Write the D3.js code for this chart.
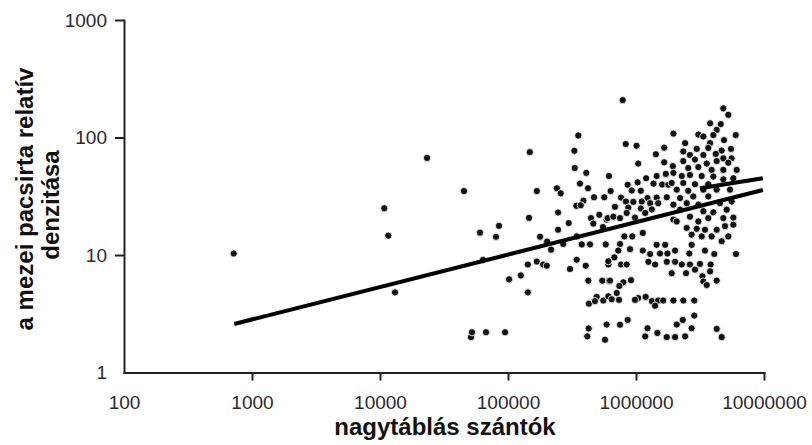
<!DOCTYPE html>
<html>
<head>
<meta charset="utf-8">
<script src="https://cdn.jsdelivr.net/npm/d3@7"></script>
<style>
  body { margin: 0; background: #fff; }
  svg { display: block; font-family: "Liberation Sans", Arial, sans-serif; }
</style>
</head>
<body>
<div id="chart"></div>
<script>
const w = 812;
const h = 445;

// ---------------- data ----------------
// nagytáblás szántók (x) and relative density (y) of the skylark
const area = [
  720, 10800, 11600, 13100, 23300, 45300, 51400, 52300, 67300, 94800,
  60400, 85100, 80600, 63800, 102000, 126000, 143000, 143000, 168000, 188000,
  178000, 202000, 217000, 146000, 148000, 168000, 241000, 246000, 246000,
  354000, 330000, 332000, 409000, 365000, 422000, 258000, 470000, 565000, 388000,
  342000, 370000, 517000, 445000, 298000, 590000, 464000, 615000,
  552000, 270000, 344000, 377000, 437000, 580000, 201000, 344000, 305000, 405000,
  608000, 424000, 545000, 615000, 493000, 555000, 429000, 478000, 608000, 427000,
  590000, 416000, 573000,
  787000, 1960000, 831000, 1010000, 1430000, 1660000, 1040000, 1660000, 1940000, 1200000,
  1450000, 1710000, 1960000, 861000, 1030000, 1370000, 1600000, 1790000, 634000, 926000,
  1090000, 1230000, 1450000, 1740000, 764000, 835000, 953000, 1110000, 1290000, 1490000,
  685000, 871000, 1090000, 1330000, 601000, 665000, 750000, 982000, 846000, 1180000,
  810000, 936000, 1130000, 750000, 898000, 1130000, 1450000, 1690000, 727000, 677000,
  608000, 764000, 846000, 1290000, 1540000, 1760000, 1250000, 1410000, 1740000, 1900000,
  626000, 796000, 914000, 741000, 707000, 646000, 737000, 1040000, 1190000, 982000,
  1330000, 1490000, 1630000, 1960000, 1410000, 861000, 750000, 1230000, 1470000, 1180000,
  1740000, 2020000,
  4810000, 5260000, 3790000, 4590000, 4270000, 3070000, 3360000, 4020000, 6010000, 4870000,
  2420000, 3790000, 2980000, 3670000, 4670000, 5520000, 2340000, 2640000, 3360000, 4200000,
  4810000, 5590000, 2340000, 2890000, 3570000, 4270000, 5260000, 6120000, 2560000, 3070000,
  3900000, 4810000, 2280000, 2640000, 3260000, 4020000, 4810000, 5760000, 1900000, 2340000,
  2890000, 3670000, 2080000, 2560000, 3360000, 4270000, 5430000, 2210000, 2800000, 3670000,
  1960000, 2490000, 3070000, 4530000, 5590000, 2210000, 3360000, 4020000, 5110000, 2640000,
  3670000, 4810000, 5760000, 1960000, 3070000,
  2080000, 2490000, 2980000, 3460000, 4270000, 4960000, 5760000, 2720000, 3260000, 3900000,
  4670000, 5260000, 2720000, 2020000, 2610000, 3460000, 4090000, 6040000, 2020000, 2280000,
  2640000, 3160000, 3830000, 2460000, 2890000, 3790000, 3300000, 4270000, 3360000, 3570000,
  2340000, 2850000, 2850000, 2320000, 2080000, 2720000, 4270000, 2420000, 4670000
];
const density = [
  10.3, 25, 14.6, 4.8, 67, 35, 2.0, 2.2, 2.2, 2.2,
  15.5, 17.7, 14.3, 9.1, 6.2, 6.7, 4.8, 8.3, 8.8, 8.3,
  14.3, 13, 11.1, 20.7, 75, 35, 37, 23, 16.4,
  104, 77, 55, 50, 40.5, 37, 33.5, 31, 31, 29,
  26.2, 26.5, 22, 20.6, 18.7, 20, 18.5, 47,
  17.3, 12.4, 14.4, 12.3, 12.3, 12.3, 8.1, 9.1, 7.6, 8.1,
  8.3, 6.05, 6.05, 6.05, 4.4, 4.1, 3.85, 4.05, 4.45, 2.37,
  2.56, 2.03, 1.9,
  208, 108, 88, 85, 72, 82, 60, 61.5, 57, 45,
  47, 49, 50, 39.6, 41.5, 40.5, 39.8, 39.6, 35, 35.4,
  35.2, 30.5, 30.8, 31, 30.8, 28.5, 28.3, 28.5, 27.6, 27.6,
  25.7, 25.3, 24.9, 24.4, 20.6, 21.2, 20.6, 20.8, 22.8, 22.8,
  14.4, 14.4, 15.4, 12.4, 11.2, 10.9, 12.2, 12.2, 10.9, 9.55,
  8.85, 8.3, 8.3, 10.2, 10.3, 10.3, 8.75, 8.3, 8.75, 7.0,
  6.05, 5.85, 6.1, 5.45, 4.75, 4.2, 4.15, 4.3, 4.4, 4.15,
  4.05, 4.1, 4.1, 4.1, 3.7, 2.8, 2.55, 2.38, 2.17, 2.03,
  2.0, 2.0,
  177, 156, 132, 130, 116, 106, 102, 105, 105, 95,
  89.5, 89.5, 80, 81.5, 77.5, 80, 76, 71, 71, 72.5,
  66.5, 66.5, 63, 65, 60, 63, 61, 53, 55, 56,
  53, 53, 47, 48, 47, 46.5, 44, 45, 41, 41,
  40, 40, 36, 35.2, 36, 36, 36, 30.5, 31.5, 31.5,
  26.8, 27.6, 26.8, 27.6, 28.5, 24.3, 23.6, 23.1, 24.3, 21.2,
  20.6, 20.6, 20.8, 20, 19.3,
  19.3, 17, 16.7, 16.4, 16.4, 17.6, 18.1, 14.9, 14.4, 14.4,
  13.1, 14.4, 12.2, 10.9, 10.3, 10.9, 10.2, 10.2, 8.75, 8.3,
  8.3, 8.4, 8.3, 7.0, 7.5, 7.25, 6.6, 6.05, 5.95, 5.55,
  4.1, 4.1, 3.05, 2.8, 2.56, 2.38, 2.35, 2.03, 2.0
];

// two fitted lines (end points)
const fitAllX = [727, 9800000];
const fitAllY = [2.59, 35.7];
const fitTopX = [3160000, 9800000];
const fitTopY = [37, 45];

const xTicks = [100, 1000, 10000, 100000, 1000000, 10000000];
const yTicks = [1, 10, 100, 1000];
const xTitle = "nagytáblás szántók";
const yTitle = ["a mezei pacsirta relatív", "denzitása"];

const points = area.map((a, i) => ({x: a, y: density[i]}));

//---------------------------------------------svg---------------------------------------------
const svg = d3.select("#chart")
  .append("svg")
    .attr("width", w)
    .attr("height", h)
    .style("background", "#fff");

const x = d3.scaleLog().domain([100, 10000000]).range([124, 764]);
const y = d3.scaleLog().domain([1, 1000]).range([372.5, 20]);

//---------------------------------------------points------------------------------------------
svg.append("g")
  .selectAll("circle")
  .data(points)
  .enter()
  .append("circle")
    .attr("cx", d => x(d.x))
    .attr("cy", d => y(d.y))
    .attr("r", 3.6)
    .attr("fill", "#111")
    .attr("stroke", "#fff")
    .attr("stroke-width", 0.8);

//---------------------------------------------fit lines---------------------------------------
const line = d3.line().x(d => x(d[0])).y(d => y(d[1]));
[[fitAllX, fitAllY], [fitTopX, fitTopY]].forEach(f => {
  svg.append("path")
    .attr("d", line(d3.zip(f[0], f[1])))
    .attr("fill", "none")
    .attr("stroke", "#000")
    .attr("stroke-width", 4);
});

//---------------------------------------------axes--------------------------------------------
const xAxis = svg.append("g")
  .attr("transform", "translate(0," + y(1) + ")")
  .call(d3.axisBottom(x).tickValues(xTicks).tickFormat(d3.format("d"))
          .tickSize(8).tickSizeOuter(0).tickPadding(15));

const yAxis = svg.append("g")
  .attr("transform", "translate(" + x(100) + ",0)")
  .call(d3.axisLeft(y).tickValues(yTicks).tickFormat(d3.format("d"))
          .tickSize(9).tickSizeOuter(0).tickPadding(8));

xAxis.selectAll(".tick").filter(d => d === 100).select("line").remove();
yAxis.selectAll(".tick").filter(d => d === 1).select("line").remove();

[xAxis, yAxis].forEach(a => {
  a.select(".domain").attr("stroke", "#222").attr("stroke-width", 2).attr("stroke-linecap", "square");
  a.selectAll(".tick line").attr("stroke", "#222").attr("stroke-width", 2);
  a.selectAll(".tick text")
    .attr("fill", "#2a2a2a")
    .style("font-size", "19px")
    .style("font-family", "'Liberation Sans', Arial, sans-serif");
});

//---------------------------------------------titles------------------------------------------
svg.append("text")
  .attr("x", 445)
  .attr("y", 435)
  .attr("text-anchor", "middle")
  .style("font-size", "24px")
  .style("font-weight", "bold")
  .attr("fill", "#111")
  .text(xTitle);

svg.selectAll(".ytitle")
  .data(yTitle)
  .enter()
  .append("text")
    .attr("class", "ytitle")
    .attr("transform", (d, i) => "translate(" + (33 + 26 * i) + "," + (199 + 6 * i) + ") rotate(-90)")
    .attr("text-anchor", "middle")
    .style("font-size", "24px")
    .style("font-weight", "bold")
    .attr("fill", "#111")
    .text(d => d);
</script>
</body>
</html>
